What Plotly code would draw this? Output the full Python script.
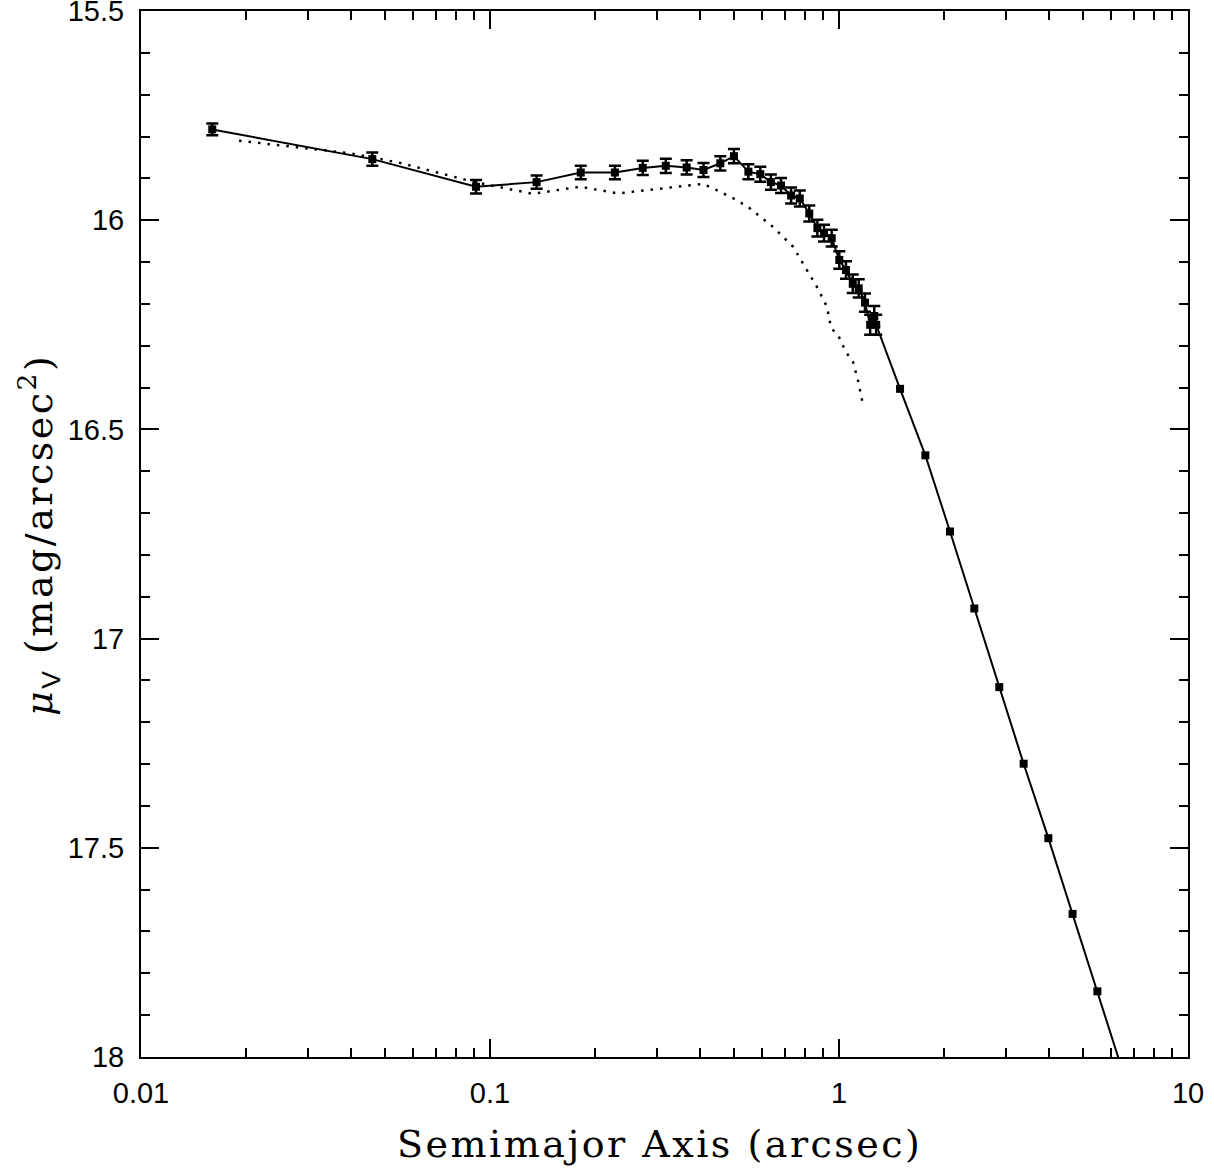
import plotly.graph_objects as go

# Inner profile (with error bars)
a_in = [0.0160, 0.0460, 0.0912, 0.136, 0.182, 0.228, 0.274, 0.319, 0.366, 0.409,
        0.457, 0.500, 0.550, 0.595, 0.638, 0.682, 0.729, 0.772, 0.822, 0.867,
        0.906, 0.953, 1.002, 1.047, 1.095, 1.139, 1.187, 1.228, 1.262, 1.278]
mu_in = [15.783, 15.854, 15.920, 15.909, 15.886, 15.886, 15.875, 15.870, 15.874, 15.880,
         15.864, 15.847, 15.884, 15.890, 15.909, 15.917, 15.941, 15.948, 15.984, 16.019,
         16.031, 16.043, 16.095, 16.119, 16.152, 16.163, 16.197, 16.250, 16.229, 16.250]
err_in = [0.014, 0.016, 0.016, 0.016, 0.016, 0.016, 0.017, 0.017, 0.017, 0.017,
          0.017, 0.017, 0.018, 0.018, 0.018, 0.018, 0.019, 0.019, 0.019, 0.020,
          0.020, 0.020, 0.021, 0.021, 0.022, 0.022, 0.022, 0.024, 0.024, 0.024]

# Outer profile (no error bars)
a_out = [1.496, 1.768, 2.08, 2.442, 2.879, 3.381, 3.98, 4.67, 5.50, 6.48]
mu_out = [16.403, 16.562, 16.744, 16.928, 17.116, 17.299, 17.477, 17.658, 17.843, 18.031]

# Dotted comparison profile
a_dot = [0.0191, 0.0286, 0.0397, 0.0552, 0.0893, 0.1327, 0.181, 0.233, 0.313, 0.408,
         0.456, 0.5095, 0.556, 0.647, 0.738, 0.810, 0.865, 0.924, 0.949, 0.993,
         1.047, 1.097, 1.133, 1.172]
mu_dot = [15.810, 15.826, 15.840, 15.863, 15.908, 15.937, 15.920, 15.936, 15.924, 15.913,
          15.932, 15.952, 15.972, 16.016, 16.063, 16.119, 16.160, 16.207, 16.258, 16.274,
          16.315, 16.339, 16.382, 16.442]

x_tickvals = [0.01, 0.1, 1, 10]
x_ticktext = ["0.01", "0.1", "1", "10"]
y_tickvals = [15.5, 16, 16.5, 17, 17.5, 18]
y_ticktext = ["15.5", "16", "16.5", "17", "17.5", "18"]

x_minor = [m * 10 ** e for e in (-2, -1, 0) for m in range(2, 10)]
y_minor = [round(15.5 + 0.1 * i, 1) for i in range(26)]

fig = go.Figure()

fig.add_trace(go.Scatter(
    x=a_dot, y=mu_dot, mode="lines",
    line=dict(color="black", width=2.5, dash="2.5px,7px"),
    hoverinfo="skip", showlegend=False))

fig.add_trace(go.Scatter(
    x=a_in + a_out, y=mu_in + mu_out, mode="lines",
    line=dict(color="black", width=2), showlegend=False))

fig.add_trace(go.Scatter(
    x=a_in, y=mu_in, mode="markers",
    marker=dict(symbol="square", size=8, color="black"),
    error_y=dict(type="data", array=err_in, color="black", thickness=2.5, width=6),
    showlegend=False))

fig.add_trace(go.Scatter(
    x=a_out, y=mu_out, mode="markers",
    marker=dict(symbol="square", size=8, color="black"),
    showlegend=False))

tickfont = dict(family="Liberation Sans, Arial, sans-serif", size=29, color="black")

fig.update_xaxes(
    type="log", range=[-2, 1],
    tickmode="array", tickvals=x_tickvals, ticktext=x_ticktext,
    ticks="inside", ticklen=18, tickwidth=2, tickcolor="black",
    minor=dict(tickmode="array", tickvals=x_minor, ticks="inside", ticklen=9,
               tickwidth=2, tickcolor="black", showgrid=False),
    showline=True, linecolor="black", linewidth=2, mirror="allticks",
    showgrid=False, zeroline=False, tickfont=tickfont, ticklabelstandoff=9,
    ticklabeloverflow="allow",
)
fig.update_yaxes(
    range=[18, 15.5],
    tickmode="array", tickvals=y_tickvals, ticktext=y_ticktext,
    ticks="inside", ticklen=18, tickwidth=2, tickcolor="black",
    minor=dict(tickmode="array", tickvals=y_minor, ticks="inside", ticklen=9,
               tickwidth=2, tickcolor="black", showgrid=False),
    showline=True, linecolor="black", linewidth=2, mirror="allticks",
    showgrid=False, zeroline=False, tickfont=tickfont, ticklabelstandoff=9,
    ticklabeloverflow="allow",
)

W, H = 1214, 1169
ml, mr, mt, mb = 141, 26, 11, 112
pw, ph = W - ml - mr, H - mt - mb


def px(sx):
    return (sx - ml) / pw


def py(sy):
    return 1 - (sy - mt) / ph


title_font = dict(family="DejaVu Serif", size=38, color="black")

fig.add_annotation(
    text="<span style='letter-spacing:2.5px'>Semimajor Axis (arcsec)</span>",
    xref="paper", yref="paper", x=px(659), y=py(1144),
    xanchor="center", yanchor="middle", showarrow=False, font=title_font)

fig.add_annotation(
    text="<span style='letter-spacing:2.5px'><i>μ</i><sub><span style='font-family:Liberation Sans'>V</span></sub>"
         " (mag/arcsec<sup>2</sup>)</span>",
    xref="paper", yref="paper", x=px(38), y=py(535),
    xanchor="center", yanchor="middle", textangle=-90, showarrow=False, font=title_font)

fig.update_layout(
    width=W, height=H,
    margin=dict(l=ml, r=mr, t=mt, b=mb, autoexpand=False),
    paper_bgcolor="white", plot_bgcolor="white",
    showlegend=False,
)

# remove the default 8px page margin so the figure fills the window exactly
fig.write_html(
    "out.html",
    config={"displayModeBar": False},
    post_script="document.body.style.margin='0';document.body.style.overflow='hidden';",
)
